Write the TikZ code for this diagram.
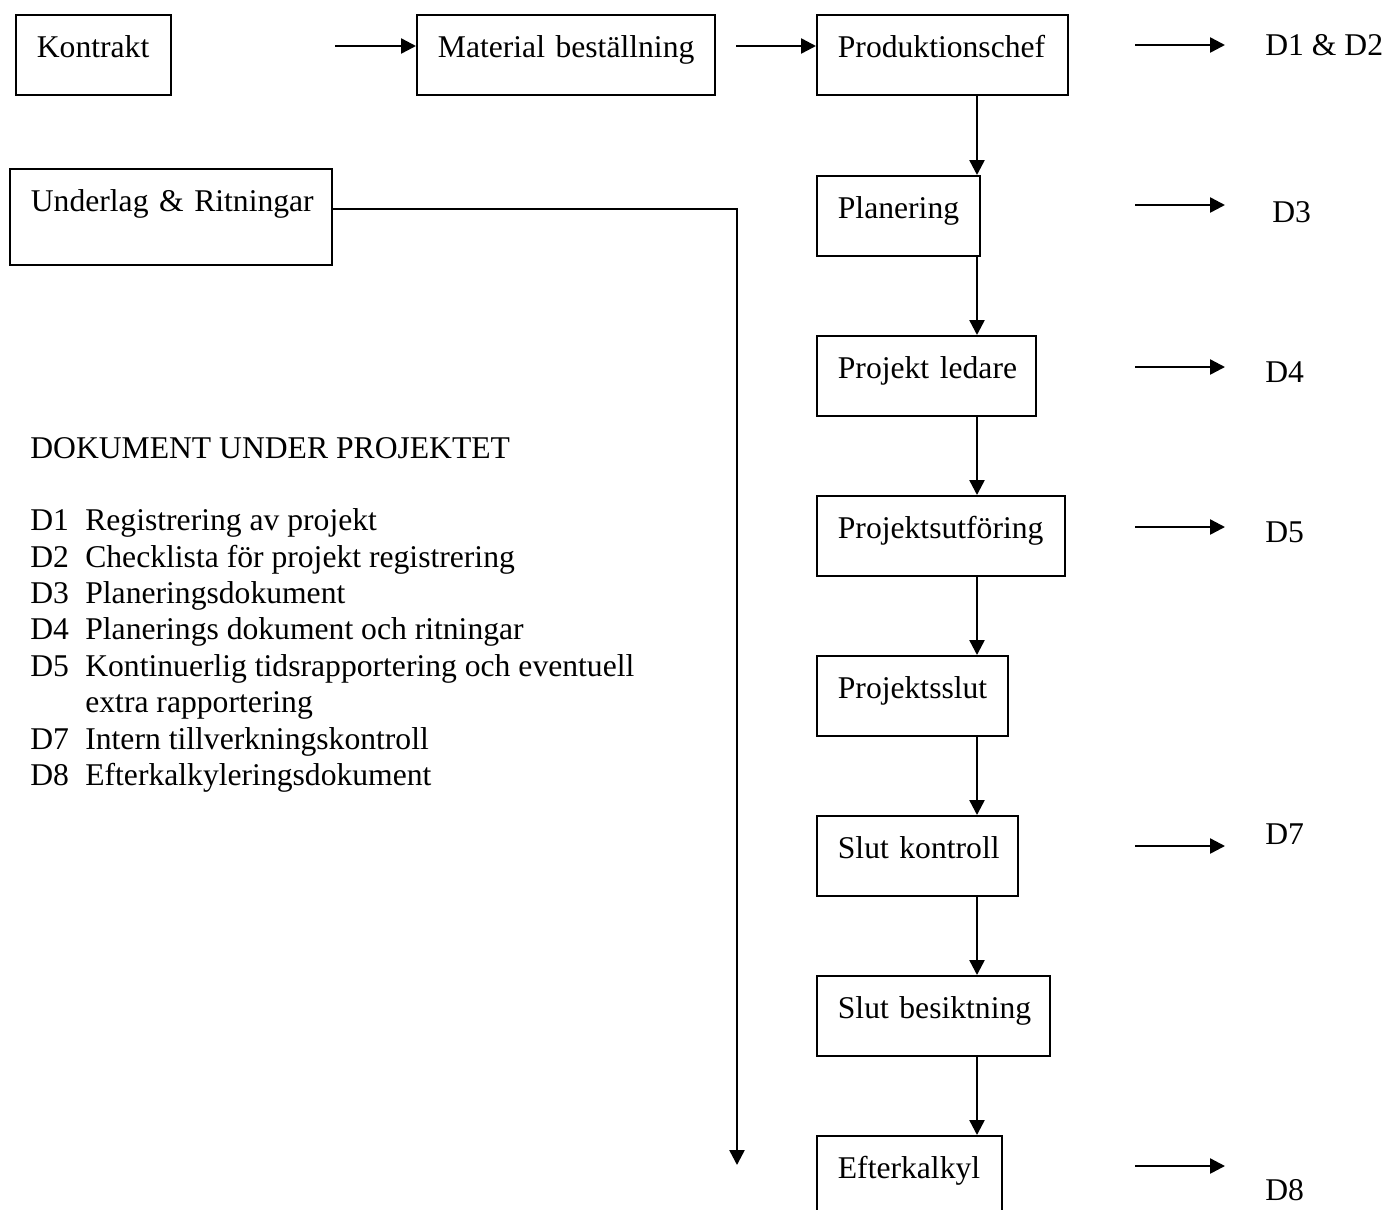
\documentclass[tikz,border=0pt]{standalone}
\usepackage{fontspec}
\setmainfont{Liberation Serif}
\usepackage{tikz}
\usetikzlibrary{arrows.meta,positioning,calc}

\begin{document}
\begin{tikzpicture}[>={Triangle[length=0.3cm,width=0.3cm]},
  font=\fontsize{18}{20.7}\selectfont,
  box/.style={draw,line width=1pt,anchor=north west,inner xsep=0.42cm,inner ysep=0pt,
    text height=0.86cm,text depth=0.74cm,align=left},
  arr/.style={->,line width=1.4pt},
  dlab/.style={anchor=west,inner sep=0pt}]
\useasboundingbox (0,0) rectangle (27.74,-24.18);
\clip (0,0) rectangle (27.74,-24.18);
% top row
\node[box,text width=2.26cm] (kontrakt) at (0.30,-0.28) {\mbox{Kontrakt}};
\node[box,text width=5.12cm] (material) at (8.32,-0.28) {\mbox{Material beställning}};
\node[box,text width=4.18cm] (prodchef) at (16.32,-0.28) {\mbox{Produktionschef}};
\node[box,text width=5.60cm,text depth=1.06cm] (underlag) at (0.18,-3.36) {\mbox{Underlag \& Ritningar}};
% main column
\node[box,text width=2.42cm] (planering) at (16.32,-3.50) {\mbox{Planering}};
\node[box,text width=3.54cm] (ledare) at (16.32,-6.70) {\mbox{Projekt ledare}};
\node[box,text width=4.12cm] (utforing) at (16.32,-9.90) {\mbox{Projektsutföring}};
\node[box,text width=2.98cm] (slut) at (16.32,-13.10) {\mbox{Projektsslut}};
\node[box,text width=3.18cm] (kontroll) at (16.32,-16.30) {\mbox{Slut kontroll}};
\node[box,text width=3.82cm] (besiktning) at (16.32,-19.50) {\mbox{Slut besiktning}};
\node[box,text width=2.86cm] (efterkalkyl) at (16.32,-22.70) {\mbox{Efterkalkyl}};
% document labels
\node[dlab] (d12) at (25.30,-0.90) {D1 \& D2};
\node[dlab] (d3) at (25.44,-4.24) {D3};
\node[dlab] (d4) at (25.30,-7.44) {D4};
\node[dlab] (d5) at (25.30,-10.64) {D5};
\node[dlab] (d7) at (25.30,-16.68) {D7};
\node[dlab] (d8) at (25.30,-23.80) {D8};
% list
\node[anchor=base west,inner sep=0pt] (rubrik) at (0.60,-9.16) {DOKUMENT UNDER PROJEKTET};
\node[anchor=north west,inner sep=0pt,align=left] (lista) at (0.60,-10.17)
  {\makebox[1.1cm][l]{D1}Registrering av projekt\\
   \makebox[1.1cm][l]{D2}Checklista för projekt registrering\\
   \makebox[1.1cm][l]{D3}Planeringsdokument\\
   \makebox[1.1cm][l]{D4}Planerings dokument och ritningar\\
   \makebox[1.1cm][l]{D5}Kontinuerlig tidsrapportering och eventuell\\
   \hspace*{1.1cm}extra rapportering\\
   \makebox[1.1cm][l]{D7}Intern tillverkningskontroll\\
   \makebox[1.1cm][l]{D8}Efterkalkyleringsdokument};
% helper points
\coordinate (col) at (19.54,0);
\coordinate (t1) at (6.70,-0.92);
\coordinate (t2) at (14.72,-0.92);
\coordinate (drop) at (14.74,-23.30);
% flow
\draw[arr] (t1) -- (t1 -| material.west);
\draw[arr] (t2) -- (t2 -| prodchef.west);
\draw[arr] (prodchef.south -| col) -- (planering.north -| col);
\draw[arr] (planering.south -| col) -- (ledare.north -| col);
\draw[arr] (ledare.south -| col) -- (utforing.north -| col);
\draw[arr] (utforing.south -| col) -- (slut.north -| col);
\draw[arr] (slut.south -| col) -- (kontroll.north -| col);
\draw[arr] (kontroll.south -| col) -- (besiktning.north -| col);
\draw[arr] (besiktning.south -| col) -- (efterkalkyl.north -| col);
\draw[arr] ([yshift=0.16cm]underlag.east) -| (drop);
% to documents
\coordinate (u1) at (22.70,-0.90);
\coordinate (u3) at (22.70,-4.10);
\coordinate (u4) at (22.70,-7.34);
\coordinate (u5) at (22.70,-10.54);
\coordinate (u7) at (22.70,-16.92);
\coordinate (u8) at (22.70,-23.32);
\draw[arr,shorten >=0.8cm] (u1) -- (u1 -| d12.west);
\draw[arr,shorten >=0.94cm] (u3) -- (u3 -| d3.west);
\draw[arr,shorten >=0.8cm] (u4) -- (u4 -| d4.west);
\draw[arr,shorten >=0.8cm] (u5) -- (u5 -| d5.west);
\draw[arr,shorten >=0.8cm] (u7) -- (u7 -| d7.west);
\draw[arr,shorten >=0.8cm] (u8) -- (u8 -| d8.west);
\end{tikzpicture}
\end{document}
